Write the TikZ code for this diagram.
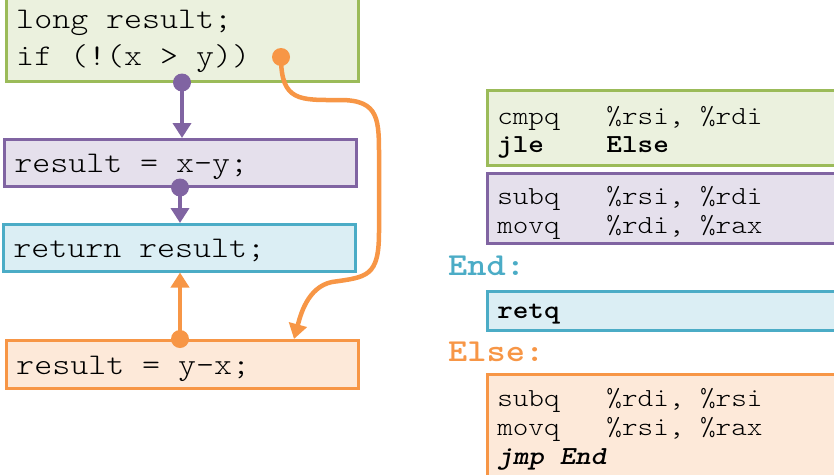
\documentclass[tikz,border=0pt]{standalone}
\usepackage{fontspec}
\setmonofont{lmmonolt10-regular.otf}[FakeStretch=1.143,
  BoldFont=lmmonolt10-bold.otf, ItalicFont=lmmonolt10-oblique.otf,
  BoldItalicFont=lmmonolt10-boldoblique.otf]
\usetikzlibrary{arrows.meta, positioning, calc}

\definecolor{grnline}{HTML}{9BBB59}
\definecolor{grnfill}{HTML}{EBF1DE}
\definecolor{purline}{HTML}{8064A2}
\definecolor{purfill}{HTML}{E5E0EC}
\definecolor{bluline}{HTML}{4BACC6}
\definecolor{blufill}{HTML}{DBEEF4}
\definecolor{orgline}{HTML}{F79646}
\definecolor{orgfill}{HTML}{FDE9D9}

% taller first line, pushes the text down a little
\newcommand\lift[1]{\rule{0pt}{#1}}

\begin{document}
\begin{tikzpicture}[x=1pt, y=-1pt,
  box/.style={draw, line width=2.5pt, anchor=north west, inner xsep=10pt,
    inner ysep=0pt, align=left},
  cbox/.style={box, text width=332pt, font=\fontsize{30}{37}\selectfont\ttfamily,
    execute at begin node={\spaceskip=18pt\relax}},
  abox/.style={box, text width=344pt, font=\fontsize{26}{29}\selectfont\ttfamily,
    execute at begin node={\spaceskip=15.6pt\relax}},
  tag/.style={anchor=base west, inner sep=0pt, font=\fontsize{32}{32}\selectfont\ttfamily\bfseries},
  link/.style={line width=4.5pt, -{Triangle[length=15pt, width=18pt]}},
  dot/.style={fill=#1}]
\useasboundingbox (0,0) rectangle (834,474);

% C source, one block per basic block
\node[cbox, draw=grnline, fill=grnfill, minimum height=85pt] (lgreen) at (5,-5)
  {\lift{24pt}long result;\\if (!(x > y))};
\node[cbox, draw=purline, fill=purfill, minimum height=47pt] (lpurple) at (3,138)
  {\lift{26pt}result = x-y;};
\node[cbox, draw=bluline, fill=blufill, minimum height=47pt] (lblue) at (2,223)
  {\lift{24pt}return result;};
\node[cbox, draw=orgline, fill=orgfill, minimum height=48pt] (lorange) at (5,339)
  {\lift{27pt}result = y-x;};

% assembly
\node[abox, draw=grnline, fill=grnfill, minimum height=75pt] (rgreen) at (486,89)
  {\lift{28pt}cmpq~~~\%rsi, \%rdi\\[-1pt]\textbf{jle~~~~Else}};
\node[abox, draw=purline, fill=purfill, minimum height=70pt] (rpurple) at (486,172)
  {\lift{28pt}subq~~~\%rsi, \%rdi\\movq~~~\%rdi, \%rax};
\node[tag, text=bluline] (endtag) at (448,275) {End:};
\node[abox, draw=bluline, fill=blufill, minimum height=39pt] (rblue) at (486,290)
  {\lift{22pt}\textbf{retq}};
\node[tag, text=orgline] (elsetag) at (448,361) {Else:};
\node[abox, draw=orgline, fill=orgfill, minimum height=110pt] (rorange) at (486,373)
  {subq~~~\%rdi, \%rsi\\movq~~~\%rsi, \%rax\\\textbf{\textit{jmp End}}\\[6pt]};

% control flow
\coordinate (d1) at ($(lgreen.south west)+(177,0)$);
\coordinate (d2) at ($(lpurple.south west)+(177,0)$);
\coordinate (d3) at ($(lorange.north west)+(175,0)$);
\coordinate (jmp) at (281,57);
\coordinate (elsein) at ($(lorange.north west)+(289,0)$);

\draw[link, purline] (d1) -- (d1 |- lpurple.north);
\fill[dot=purline] (d1) circle (9);
\draw[link, purline] (d2) -- (d2 |- lblue.north);
\fill[dot=purline] (d2) circle (9);
\draw[link, orgline] (d3) -- (d3 |- lblue.south);
\fill[dot=orgline] (d3) circle (9);

\draw[link, orgline] (jmp) .. controls +(0,45) and +(-40,0) .. (340,100)
  .. controls +(40,0) and +(0,-40) .. (379,160) -- (379,232)
  .. controls +(0,45) and +(35,-5) .. (332,282)
  .. controls +(-25,5) and +(6,-22) .. (elsein);
\fill[dot=orgline] (jmp) circle (9);
\end{tikzpicture}
\end{document}
